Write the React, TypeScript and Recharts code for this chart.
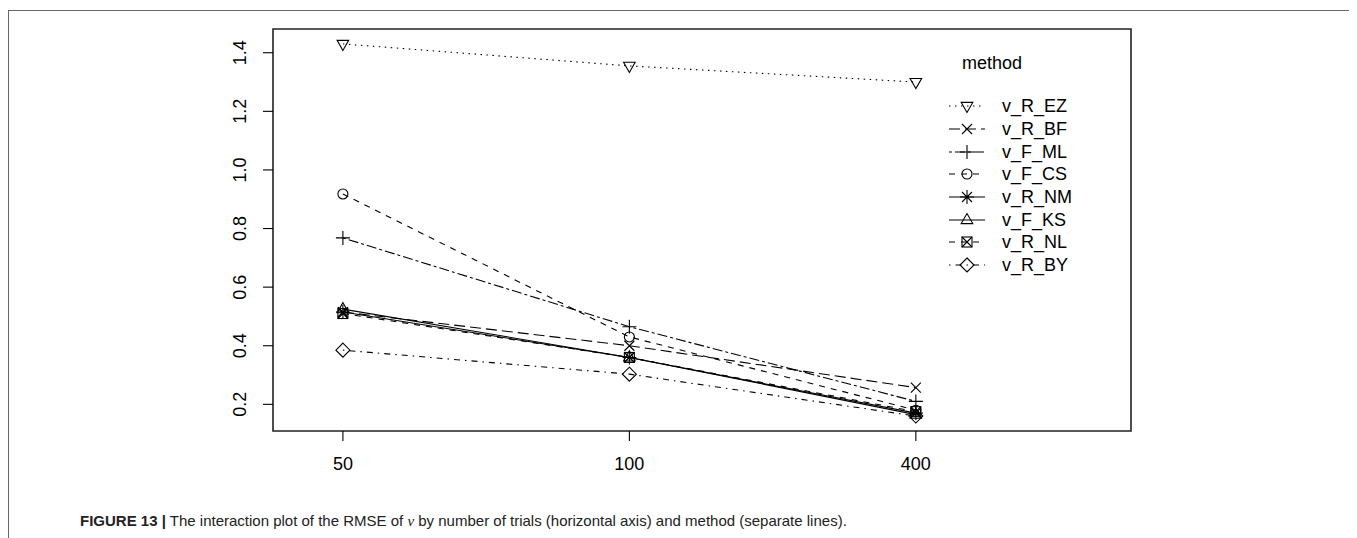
import React from "react";
import {
  LineChart,
  Line,
  XAxis,
  YAxis,
  ReferenceArea,
  Legend,
} from "recharts";

// number of trials (categorical, drawn at positions 1..3 like R's interaction.plot)
const trials = ["50", "100", "400"];
const xPos = [1, 2, 3];

// RMSE of nu, per method
const vREZ = [1.43, 1.355, 1.3];
const vRBF = [0.515, 0.4, 0.257];
const vFML = [0.768, 0.465, 0.21];
const vFCS = [0.918, 0.43, 0.18];
const vRNM = [0.515, 0.36, 0.17];
const vFKS = [0.525, 0.36, 0.165];
const vRNL = [0.51, 0.36, 0.175];
const vRBY = [0.385, 0.303, 0.16];

const yTicks = [0.2, 0.4, 0.6, 0.8, 1.0, 1.2, 1.4];
const xDomain: [number, number] = [0.756, 3.751];
const yDomain: [number, number] = [0.109, 1.481];

type Shape =
  | "triDown"
  | "cross"
  | "plus"
  | "circle"
  | "star"
  | "triUp"
  | "boxX"
  | "diamond";

const series: { name: string; values: number[]; dash?: string; shape: Shape }[] = [
  { name: "v_R_EZ", values: vREZ, dash: "1.5 4.5", shape: "triDown" },
  { name: "v_R_BF", values: vRBF, dash: "11 5", shape: "cross" },
  { name: "v_F_ML", values: vFML, dash: "3 3 10 3", shape: "plus" },
  { name: "v_F_CS", values: vFCS, dash: "6 6", shape: "circle" },
  { name: "v_R_NM", values: vRNM, shape: "star" },
  { name: "v_F_KS", values: vFKS, shape: "triUp" },
  { name: "v_R_NL", values: vRNL, dash: "6 6", shape: "boxX" },
  { name: "v_R_BY", values: vRBY, dash: "1.5 5 6 5", shape: "diamond" },
];

const rows = xPos.map((x, i) => {
  const r: Record<string, number> = { x };
  series.forEach((s) => (r[s.name] = s.values[i]));
  return r;
});

const FONT = "'Liberation Sans', Arial, sans-serif";

function Marker({ shape, cx, cy }: { shape: Shape; cx: number; cy: number }) {
  const st = { stroke: "#000", strokeWidth: 1.1, fill: "none" };
  const cross = (d: number) =>
    `M${cx - d},${cy - d}L${cx + d},${cy + d}M${cx - d},${cy + d}L${cx + d},${cy - d}`;
  const plus = (d: number) => `M${cx - d},${cy}H${cx + d}M${cx},${cy - d}V${cy + d}`;
  switch (shape) {
    case "circle":
      return <circle cx={cx} cy={cy} r={5} {...st} />;
    case "triUp":
      return (
        <polygon
          points={`${cx},${cy - 6.5} ${cx - 5.8},${cy + 3.6} ${cx + 5.8},${cy + 3.6}`}
          {...st}
        />
      );
    case "triDown":
      return (
        <polygon
          points={`${cx},${cy + 6.5} ${cx - 5.8},${cy - 3.6} ${cx + 5.8},${cy - 3.6}`}
          {...st}
        />
      );
    case "plus":
      return <path d={plus(7)} {...st} />;
    case "cross":
      return <path d={cross(5)} {...st} />;
    case "diamond":
      return (
        <path
          d={`M${cx},${cy - 7}L${cx + 7},${cy}L${cx},${cy + 7}L${cx - 7},${cy}Z`}
          {...st}
        />
      );
    case "boxX":
      return (
        <g>
          <rect x={cx - 5} y={cy - 5} width={10} height={10} {...st} />
          <path d={cross(5)} {...st} />
        </g>
      );
    case "star":
      return <path d={plus(7) + cross(5)} {...st} />;
  }
  return null;
}

function YTick(p: any) {
  const cx = p.x - 19;
  return (
    <text
      transform={`translate(${cx},${p.y}) rotate(-90)`}
      textAnchor="middle"
      dominantBaseline="central"
      fontSize={18}
      fontFamily={FONT}
      fill="#000"
    >
      {Number(p.payload.value).toFixed(1)}
    </text>
  );
}

function MethodLegend() {
  return (
    <div style={{ fontFamily: FONT, fontSize: 18, color: "#000" }}>
      <div style={{ paddingLeft: 13, height: 42, lineHeight: "20px" }}>method</div>
      {series.map((s) => (
        <div key={s.name} style={{ display: "flex", alignItems: "center", height: 22.7 }}>
          <svg width={53} height={22} style={{ display: "block" }}>
            <line
              x1={0}
              x2={36}
              y1={11}
              y2={11}
              stroke="#000"
              strokeWidth={1.1}
              strokeDasharray={s.dash}
            />
            <Marker shape={s.shape} cx={18} cy={11} />
          </svg>
          <span style={{ lineHeight: "22px" }}>{s.name}</span>
        </div>
      ))}
    </div>
  );
}

export default function App(): React.ReactElement {
  return (
    <div style={{ position: "relative", width: 1349, height: 530 }}>
      {/* figure frame */}
      <div
        style={{
          position: "absolute",
          left: 0,
          top: 2,
          width: 1345,
          height: 540,
          borderTop: "1.5px solid #666",
          borderLeft: "1.5px solid #666",
          borderRight: "1.5px solid #666",
        }}
      />
      <div style={{ position: "absolute", left: 0, top: 0 }}>
        <LineChart
          width={1340}
          height={470}
          data={rows}
          margin={{ top: 21, right: 217, bottom: 7, left: 205 }}
        >
          <XAxis
            dataKey="x"
            type="number"
            domain={xDomain}
            ticks={xPos}
            allowDataOverflow
            tickFormatter={(v: number) => trials[v - 1]}
            axisLine={false}
            tickLine={{ stroke: "#000", strokeWidth: 1.1 }}
            tickSize={10}
            tickMargin={16}
            height={40}
            tick={{ fill: "#000", fontSize: 18, fontFamily: FONT }}
          />
          <YAxis
            type="number"
            domain={yDomain}
            ticks={yTicks}
            allowDataOverflow
            axisLine={false}
            tickLine={{ stroke: "#000", strokeWidth: 1.1 }}
            tickSize={10}
            tickMargin={4}
            width={60}
            tick={<YTick />}
          />
          <ReferenceArea
            x1={xDomain[0]}
            x2={xDomain[1]}
            y1={yDomain[0]}
            y2={yDomain[1]}
            fill="none"
            stroke="#222"
            strokeWidth={1.6}
            ifOverflow="visible"
          />
          {series.map((s) => (
            <Line
              key={s.name}
              dataKey={s.name}
              type="linear"
              stroke="#000"
              strokeWidth={1.1}
              strokeDasharray={s.dash}
              isAnimationActive={false}
              activeDot={false}
              dot={(p: any) => (
                <Marker key={`${s.name}-${p.index}`} shape={s.shape} cx={p.cx} cy={p.cy} />
              )}
            />
          ))}
          <Legend
            layout="horizontal"
            verticalAlign="middle"
            align="center"
            content={<MethodLegend />}
            wrapperStyle={{ position: "absolute", left: 941, top: 45, width: 130, height: 240 }}
          />
        </LineChart>
      </div>
      <div
        style={{
          position: "absolute",
          left: 72,
          top: 504,
          fontFamily: FONT,
          fontSize: 15,
          lineHeight: "18px",
          color: "#222",
          whiteSpace: "nowrap",
        }}
      >
        <b>FIGURE 13 |</b> The interaction plot of the RMSE of{" "}
        <i style={{ fontFamily: "'Liberation Serif', serif" }}>ν</i> by number of trials
        (horizontal axis) and method (separate lines).
      </div>
    </div>
  );
}
